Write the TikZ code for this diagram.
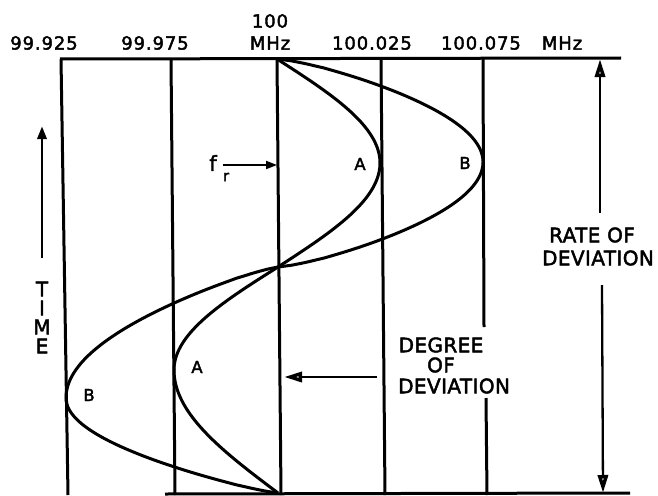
\documentclass[tikz,border=0pt]{standalone}
\usepackage{fontspec}
\setmainfont[FakeBold=2.2,AutoFakeBold=2.2]{DejaVu Sans}
\newfontfamily\numfont[LetterSpace=5,FakeBold=2.2]{DejaVu Sans}
\newfontfamily\lblfont[LetterSpace=2,FakeBold=2.2]{DejaVu Sans}
\newfontfamily\plainfont[FakeBold=2.2]{DejaVu Sans}
\usetikzlibrary{arrows.meta}
\begin{document}
\begin{tikzpicture}[x=1pt,y=-1pt,
  frame/.style={line width=3pt},
  wave/.style={line width=3pt, line join=round},
  num/.style={font=\fontsize{18}{18}\selectfont\numfont, inner sep=0pt},
  lbl/.style={font=\fontsize{20}{20}\selectfont\lblfont, inner sep=0pt},
  ptlbl/.style={font=\fontsize{16.5}{16.5}\selectfont\plainfont, inner sep=0pt},
  openarrow/.style={line width=2.3pt,-{Triangle[open,length=18pt,width=10pt,line width=3.4pt]}},
  smallopen/.style={line width=2.3pt,-{Triangle[open,length=13pt,width=9pt,line width=3.2pt]}},
  fillarrow/.style={line width=2pt,-{Triangle[length=11pt,width=8pt]}},
]
\useasboundingbox (0,0) rectangle (658,495);

% frame lines
\draw[frame] (60,59) -- (621,58);
\draw[frame] (165,494) -- (630,493);
\draw[frame] (61,59) -- (68,495);
\draw[frame] (171,59) -- (175,495);
\draw[frame] (277,59) -- (281,495);
\draw[frame] (381,59) -- (385,495);
\draw[frame] (483,59) -- (484,327);
\draw[frame] (486,398) -- (487,495);

% curve A
\draw[wave] plot[domain=0:90,samples=45] ({277+103*sin(\x)},{59+104*\x/90})
  -- plot[domain=90:0,samples=45] ({278+102*sin(\x)},{267-104*\x/90})
  -- plot[domain=0:90,samples=45] ({278-104*sin(\x)},{267+103*\x/90})
  -- plot[domain=90:0,samples=45] ({278-104*sin(\x)},{493-123*\x/90});

% curve B
\draw[wave] plot[domain=0:90,samples=60] ({277+206*pow(max(sin(\x),0.0001),0.75)},{59+103*\x/90})
  -- plot[domain=90:0,samples=60] ({278+205*pow(max(sin(\x),0.0001),0.75)},{267-105*\x/90})
  -- plot[domain=0:90,samples=60] ({278-212*pow(max(sin(\x),0.0001),0.82)},{267+131*\x/90})
  -- plot[domain=90:0,samples=60] ({278-212*pow(max(sin(\x),0.0001),0.82)},{493-95*\x/90});

% top labels
\node[num] (f1) at (44,43) {99.925};
\node[num] (f2) at (155,43) {99.975};
\node[num] (f3a) at (270,21) {100};
\node[num] (f3b) at (270,43) {MHz};
\node[num] (f4) at (372,43) {100.025};
\node[num] (f5) at (481,43) {100.075};
\node[num] (f6) at (562,43) {MHz};

% time arrow
\coordinate (timeTail) at (42,258);
\coordinate (timeHead) at (42,126);
\draw[smallopen] (timeTail) -- (timeHead);
\node[lbl] (tT) at (42,289) {T};
\node[lbl] (tI) at (42,308) {I};
\node[lbl] (tM) at (42,327) {M};
\node[lbl] (tE) at (42,346) {E};

% f_r
\node[font=\fontsize{21}{21}\selectfont\plainfont, inner sep=0pt] (fr) at (213,163) {f};
\node[font=\fontsize{15}{15}\selectfont\plainfont, inner sep=0pt] (frsub) at (226,177) {r};
\coordinate (frTail) at (223,165);
\coordinate (frHead) at (277,165);
\draw[fillarrow] (frTail) -- (frHead);

% A B labels
\node[ptlbl] (Ar) at (360,164) {A};
\node[ptlbl] (Br) at (465,163) {B};
\node[ptlbl] (Al) at (197,367) {A};
\node[ptlbl] (Bl) at (89,395) {B};

% degree of deviation
\node[lbl] (dg1) at (441,345) {DEGREE};
\node[lbl] (dg2) at (441,365) {OF};
\node[lbl,anchor=west] (dg3) at (398,386) {DEVIATION};
\coordinate (degTail) at (377,377);
\coordinate (degHead) at (284,377);
\draw[openarrow] (degTail) -- (degHead);

% rate of deviation
\node[lbl] (rt1) at (592,235) {RATE OF};
\node[lbl] (rt2) at (598,258) {DEVIATION};
\coordinate (rateTop) at (600,59);
\coordinate (rateUp) at (600,213);
\coordinate (rateDown) at (602,285);
\coordinate (rateBot) at (603,493);
\draw[openarrow] (rateUp) -- (rateTop);
\draw[openarrow] (rateDown) -- (rateBot);
\end{tikzpicture}
\end{document}
